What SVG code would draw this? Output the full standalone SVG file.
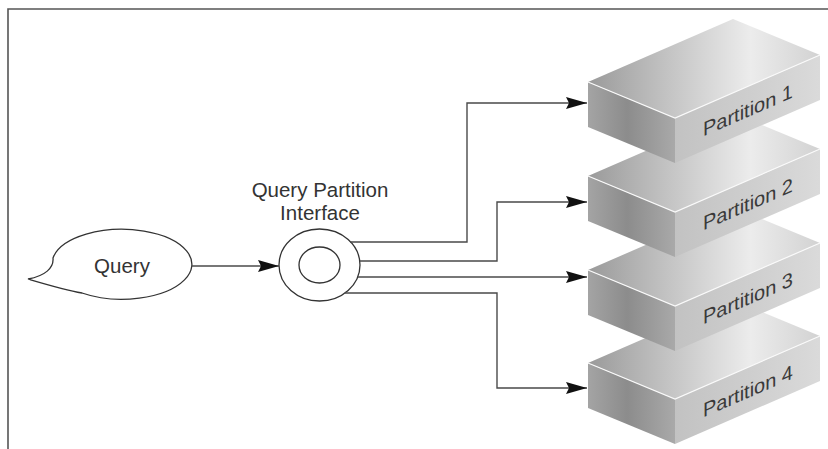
<svg xmlns="http://www.w3.org/2000/svg" xmlns:xlink="http://www.w3.org/1999/xlink" width="828" height="449" viewBox="0 0 828 449">
<style>
.lbl{font-family:"Liberation Sans",Arial,sans-serif;font-size:20.5px;fill:#333;}
.plbl{font-family:"Liberation Sans",Arial,sans-serif;font-size:20px;fill:#3a3a3a;}
.ln{fill:none;stroke:#4a4a4a;stroke-width:1.4;}
.out{fill:#fff;stroke:#333;stroke-width:1.3;}
</style>
<defs>
<marker id="ah" markerUnits="userSpaceOnUse" markerWidth="22" markerHeight="14" refX="21" refY="6.5" orient="auto">
<path d="M0,0.5 L21,6.5 L0,12.5 L3,6.5 Z" fill="#111"/>
</marker>
<linearGradient id="gTop" x1="0" y1="0" x2="1" y2="0">
<stop offset="0" stop-color="#9a9a9a"/>
<stop offset="0.35" stop-color="#c4c4c4"/>
<stop offset="0.7" stop-color="#ececec"/>
<stop offset="1" stop-color="#d2d2d2"/>
</linearGradient>
<linearGradient id="gLeft" x1="0" y1="0" x2="1" y2="0">
<stop offset="0" stop-color="#a4a4a4"/>
<stop offset="0.45" stop-color="#8c8c8c"/>
<stop offset="1" stop-color="#a9a9a9"/>
</linearGradient>
<linearGradient id="gRight" x1="0" y1="0" x2="1" y2="0">
<stop offset="0" stop-color="#c2c2c2"/>
<stop offset="0.6" stop-color="#d0d0d0"/>
<stop offset="1" stop-color="#dadada"/>
</linearGradient>
<g id="box">
<path d="M588,82 L733,19 L820,55 L675,118 Z" fill="url(#gTop)"/>
<path d="M588,82 L675,118 L675,163 L588,127 Z" fill="url(#gLeft)"/>
<path d="M675,118 L820,55 L820,100 L675,163 Z" fill="url(#gRight)"/>
<path d="M588,82 L675,118 L820,55" fill="none" stroke="#fafafa" stroke-width="1.2"/>
</g>
</defs>
<rect width="828" height="449" fill="#fff"/>
<g id="frame">
<path d="M8,449 V9 H828" fill="none" stroke="#555" stroke-width="1.6"/>
</g>
<g id="query">
<path class="out" d="M53,258 A70,35 0 1 1 82,293 C65,290 45,284 28,279 C45,276 54,268 53,258 Z"/>
<text class="lbl" x="122" y="273" text-anchor="middle">Query</text>
</g>
<g id="interface">
<ellipse class="out" cx="319.5" cy="265" rx="40.5" ry="36"/>
<ellipse class="out" cx="319.5" cy="265" rx="20.5" ry="18"/>
<text class="lbl" x="320" y="197" text-anchor="middle">Query Partition</text>
<text class="lbl" x="320" y="220" text-anchor="middle">Interface</text>
</g>
<g id="partition4">
<use xlink:href="#box" transform="translate(0,281)"/>
<text class="plbl" text-anchor="middle" transform="translate(748,398) skewY(-23.5)">Partition 4</text>
</g>
<g id="partition3">
<use xlink:href="#box" transform="translate(0,188)"/>
<text class="plbl" text-anchor="middle" transform="translate(748,305) skewY(-23.5)">Partition 3</text>
</g>
<g id="partition2">
<use xlink:href="#box" transform="translate(0,94)"/>
<text class="plbl" text-anchor="middle" transform="translate(748,211) skewY(-23.5)">Partition 2</text>
</g>
<g id="partition1">
<use xlink:href="#box"/>
<text class="plbl" text-anchor="middle" transform="translate(748,117) skewY(-23.5)">Partition 1</text>
</g>
<g id="connectors">
<path class="ln" d="M192,266 H279" marker-end="url(#ah)"/>
<path class="ln" d="M350,242 H467 V103 H587" marker-end="url(#ah)"/>
<path class="ln" d="M360,261 H497 V202 H587" marker-end="url(#ah)"/>
<path class="ln" d="M358,277 H587" marker-end="url(#ah)"/>
<path class="ln" d="M345,293 H497 V388 H587" marker-end="url(#ah)"/>
</g>
</svg>
